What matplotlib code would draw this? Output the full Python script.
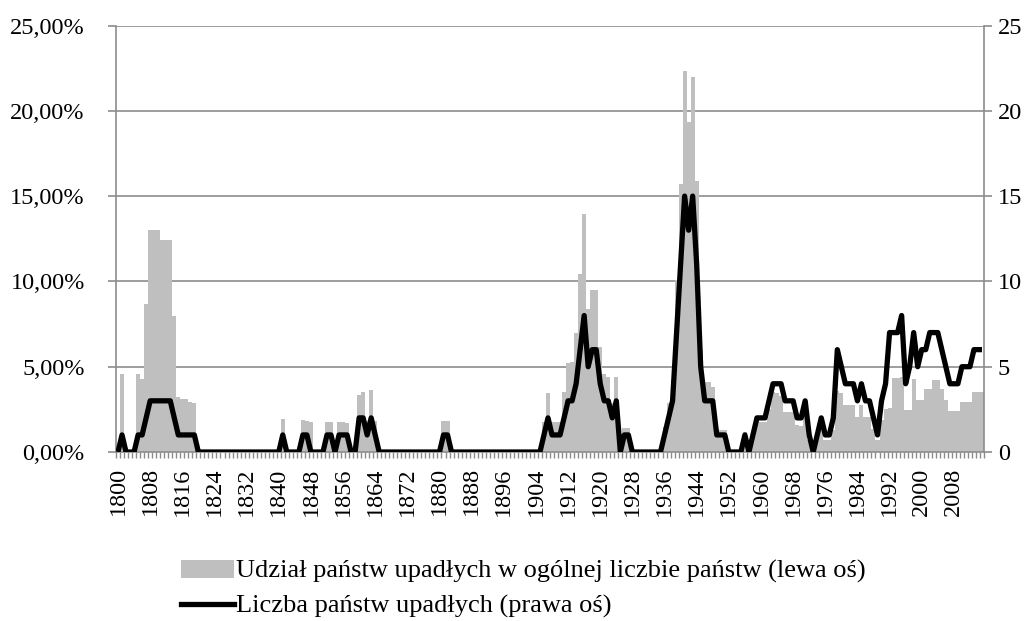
import numpy as np
import matplotlib
matplotlib.use("Agg")
import matplotlib.pyplot as plt
from matplotlib.ticker import FuncFormatter
from matplotlib.patches import Patch
from matplotlib.lines import Line2D

# years on the category axis
years = list(range(1800, 2016))

# share of failed states in all states, % (left axis), one row per decade
share = [
    0, 4.55, 0, 0, 0, 4.55, 4.3, 8.65, 13.0, 13.0,                  # 1800
    13.0, 12.45, 12.45, 12.45, 7.96, 3.24, 3.1, 3.1, 2.95, 2.9,     # 1810
    0, 0, 0, 0, 0, 0, 0, 0, 0, 0,                                   # 1820
    0, 0, 0, 0, 0, 0, 0, 0, 0, 0,                                   # 1830
    0, 1.91, 0, 0, 0, 0, 1.87, 1.8, 1.78, 0,                        # 1840
    0, 0, 1.77, 1.77, 0, 1.73, 1.73, 1.7, 0, 0,                     # 1850
    3.34, 3.53, 1.8, 3.63, 1.8, 0, 0, 0, 0, 0,                      # 1860
    0, 0, 0, 0, 0, 0, 0, 0, 0, 0,                                   # 1870
    0, 1.83, 1.8, 0, 0, 0, 0, 0, 0, 0,                              # 1880
    0, 0, 0, 0, 0, 0, 0, 0, 0, 0,                                   # 1890
    0, 0, 0, 0, 0, 0, 1.78, 3.47, 1.74, 1.74,                       # 1900
    1.74, 3.49, 5.23, 5.25, 6.99, 10.46, 13.97, 8.41, 9.48, 9.48,   # 1910
    6.17, 4.6, 4.41, 2.9, 4.37, 0, 1.42, 1.42, 0, 0,                # 1920
    0, 0, 0, 0, 0, 0, 1.45, 2.85, 4.2, 10.1,                        # 1930
    15.69, 22.33, 19.34, 22.0, 15.89, 6.0, 4.12, 4.1, 3.82, 1.35,   # 1940
    1.3, 1.3, 0, 0, 0, 0, 1.15, 0, 1.0, 1.8,                        # 1950
    1.78, 1.75, 2.5, 3.5, 3.45, 3.3, 2.36, 2.36, 2.36, 1.58,        # 1960
    1.55, 2.3, 0.7, 0, 0.7, 1.4, 0.7, 0.7, 1.3, 3.6,                # 1970
    3.44, 2.75, 2.75, 2.75, 2.07, 2.75, 2.07, 2.07, 1.35, 0.7,      # 1980
    1.9, 2.5, 2.56, 4.31, 4.31, 4.4, 2.46, 2.46, 4.3, 3.04,         # 1990
    3.04, 3.67, 3.67, 4.2, 4.2, 3.67, 3.04, 2.42, 2.42, 2.42,       # 2000
    2.95, 2.95, 2.95, 3.53, 3.53, 3.53,                             # 2010
]

# number of failed states (right axis)
count = [
    0, 1, 0, 0, 0, 1, 1, 2, 3, 3,      # 1800
    3, 3, 3, 3, 2, 1, 1, 1, 1, 1,      # 1810
    0, 0, 0, 0, 0, 0, 0, 0, 0, 0,      # 1820
    0, 0, 0, 0, 0, 0, 0, 0, 0, 0,      # 1830
    0, 1, 0, 0, 0, 0, 1, 1, 0, 0,      # 1840
    0, 0, 1, 1, 0, 1, 1, 1, 0, 0,      # 1850
    2, 2, 1, 2, 1, 0, 0, 0, 0, 0,      # 1860
    0, 0, 0, 0, 0, 0, 0, 0, 0, 0,      # 1870
    0, 1, 1, 0, 0, 0, 0, 0, 0, 0,      # 1880
    0, 0, 0, 0, 0, 0, 0, 0, 0, 0,      # 1890
    0, 0, 0, 0, 0, 0, 1, 2, 1, 1,      # 1900
    1, 2, 3, 3, 4, 6, 8, 5, 6, 6,      # 1910
    4, 3, 3, 2, 3, 0, 1, 1, 0, 0,      # 1920
    0, 0, 0, 0, 0, 0, 1, 2, 3, 7,      # 1930
    11, 15, 13, 15, 11, 5, 3, 3, 3, 1, # 1940
    1, 1, 0, 0, 0, 0, 1, 0, 1, 2,      # 1950
    2, 2, 3, 4, 4, 4, 3, 3, 3, 2,      # 1960
    2, 3, 1, 0, 1, 2, 1, 1, 2, 6,      # 1970
    5, 4, 4, 4, 3, 4, 3, 3, 2, 1,      # 1980
    3, 4, 7, 7, 7, 8, 4, 5, 7, 5,      # 1990
    6, 6, 7, 7, 7, 6, 5, 4, 4, 4,      # 2000
    5, 5, 5, 6, 6, 6,                  # 2010
]

label_share = "Udział państw upadłych w ogólnej liczbie państw (lewa oś)"
label_count = "Liczba państw upadłych (prawa oś)"

plt.rcParams['font.family'] = ['Liberation Serif', 'DejaVu Serif']
fs = 17.5
grey = '#8c8c8c'

W, H = 1036, 621
fig = plt.figure(figsize=(W / 100, H / 100), dpi=100)
ax = fig.add_axes([116 / W, 1 - 452 / H, (984 - 116) / W, (452 - 25.5) / H])

x = np.arange(len(years))
ax.bar(x, share, width=1.0, color='#bfbfbf', linewidth=0)
ax.set_xlim(-0.5, len(years) - 0.5)
ax.set_ylim(0, 25)
ax.set_yticks(range(0, 26, 5))
ax.yaxis.set_major_formatter(FuncFormatter(lambda v, p: ("%.2f%%" % v).replace('.', ',')))
ax.grid(axis='y', color=grey, linewidth=1.2)
ax.set_axisbelow(True)

# x axis: labels every 8 years, small tick between every category
ax.set_xticks(x[::8])
ax.set_xticklabels([str(y) for y in years[::8]], rotation=90)
ax.set_xticks(np.arange(-0.5, len(years), 1), minor=True)
ax.tick_params(axis='x', which='major', length=0, pad=11, labelsize=fs)
ax.tick_params(axis='x', which='minor', length=4, width=1, color=grey)
ax.tick_params(axis='y', length=6, width=1.2, color=grey, pad=16.5, labelsize=fs)

for s in ['top', 'right']:
    ax.spines[s].set_visible(False)
for s in ['left', 'bottom']:
    ax.spines[s].set_color(grey)
    ax.spines[s].set_linewidth(1.2)

ax2 = ax.twinx()
ax2.plot(x, count, color='black', linewidth=3.8, solid_joinstyle='round', solid_capstyle='butt')
ax2.set_ylim(0, 25)
ax2.set_yticks(range(0, 26, 5))
ax2.tick_params(axis='y', length=6, width=1.2, color=grey, pad=4, labelsize=fs)
for s in ['top', 'left', 'bottom']:
    ax2.spines[s].set_visible(False)
ax2.spines['right'].set_color(grey)
ax2.spines['right'].set_linewidth(1.2)

handles = [Patch(facecolor='#bfbfbf', edgecolor='none'),
           Line2D([0], [0], color='black', linewidth=3.8)]
fig.legend(handles, [label_share, label_count], loc='upper left',
           bbox_to_anchor=(181 / W, 1 - 560 / H), frameon=False,
           fontsize=19, handlelength=2.0, handleheight=0.65,
           handletextpad=0.1, labelspacing=0.43, borderpad=0, borderaxespad=0)

fig.savefig('out.png', dpi=100)
